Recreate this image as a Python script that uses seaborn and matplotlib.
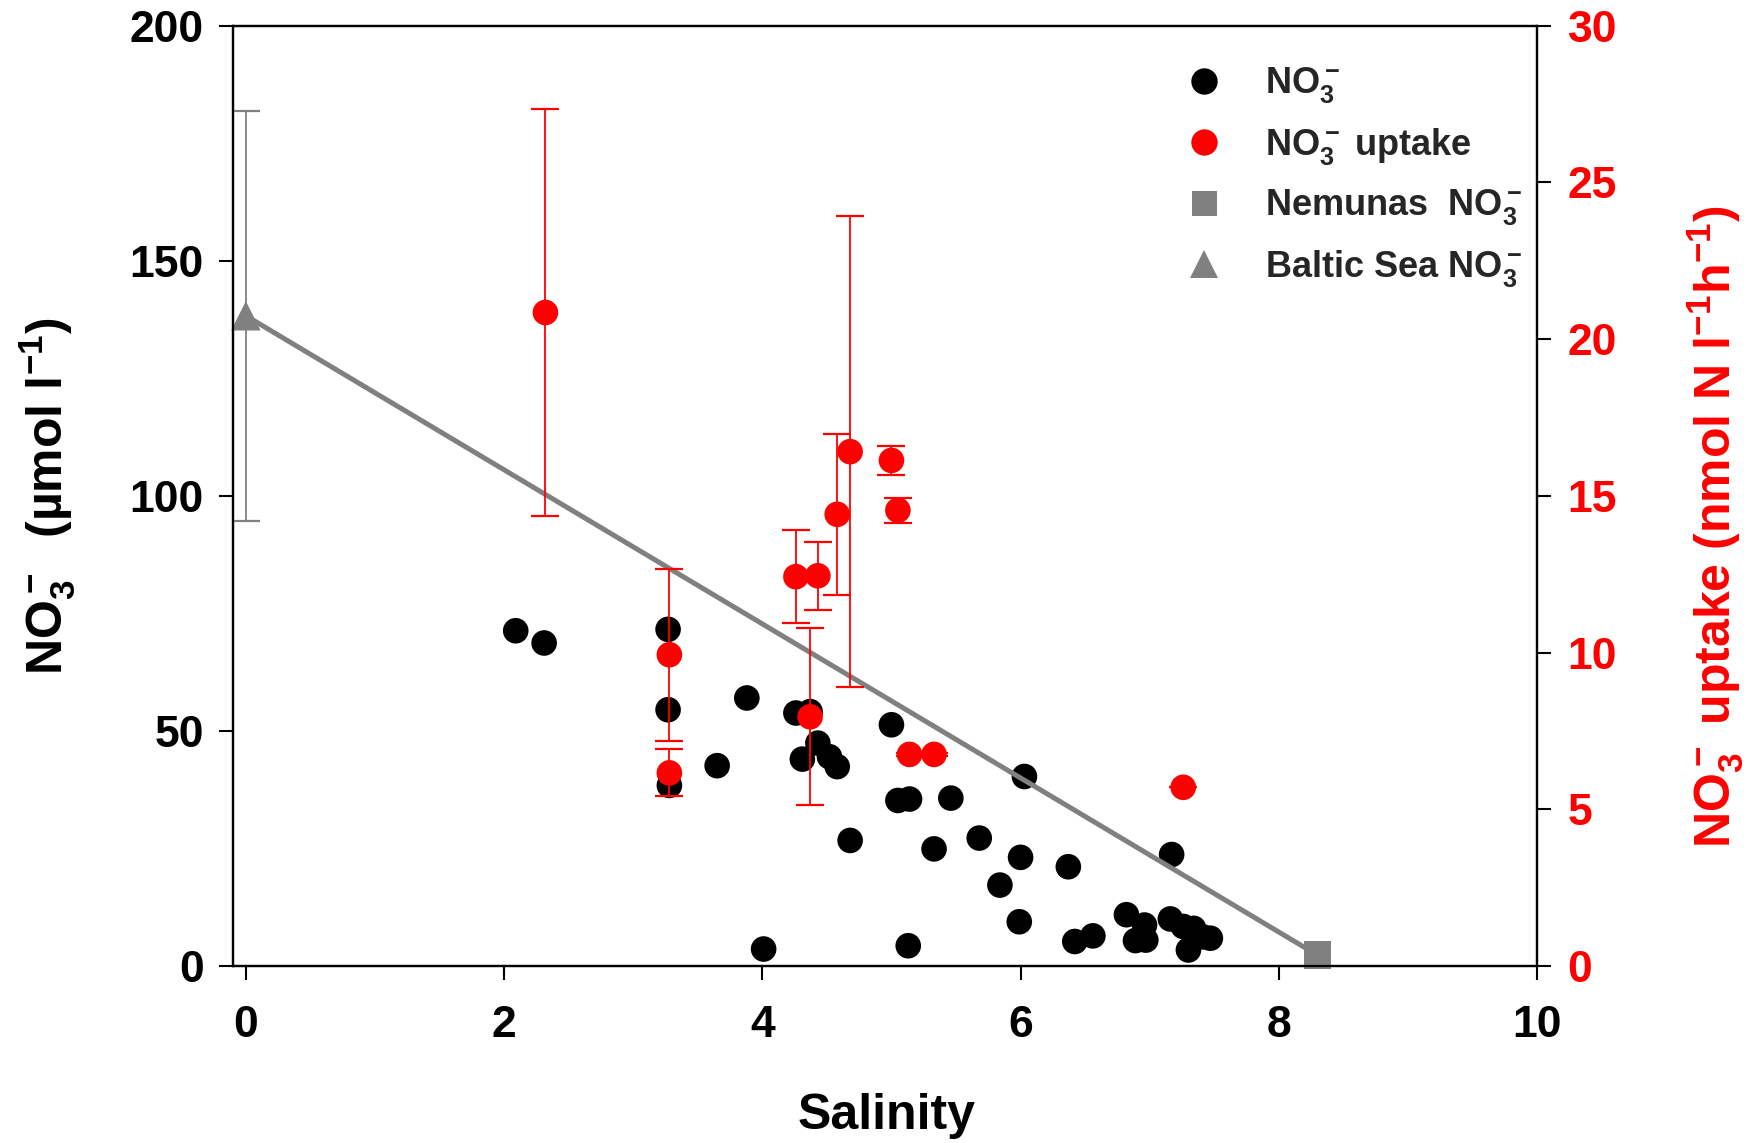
import matplotlib
matplotlib.use("Agg")
import matplotlib.pyplot as plt
import seaborn as sns
import numpy as np
import pandas as pd
from matplotlib.lines import Line2D

# ---------------- data ----------------
salinity_no3 = [2.09, 2.31, 3.27, 3.27, 3.28, 3.65, 3.88, 4.26, 4.37, 4.31,
                4.43, 4.52, 4.58, 4.68, 4.01, 5.00, 5.05, 5.14, 5.46, 5.33,
                5.68, 5.84, 6.00, 5.99, 6.03, 5.13, 6.37, 6.42, 6.56, 6.82,
                6.89, 6.96, 6.97, 7.17, 7.16, 7.26, 7.30, 7.34, 7.41, 7.47]
no3 = [71.3, 68.7, 71.6, 54.5, 38.4, 42.6, 57.0, 53.8, 54.1, 44.0,
       47.4, 44.5, 42.4, 26.7, 3.6, 51.3, 35.2, 35.5, 35.7, 24.9,
       27.2, 17.2, 23.1, 9.4, 40.3, 4.3, 21.1, 5.2, 6.4, 10.9,
       5.4, 8.7, 5.5, 23.7, 10.0, 8.4, 3.4, 8.0, 6.2, 5.9]

salinity_uptake = [2.32, 3.28, 3.28, 4.26, 4.37, 4.43, 4.58, 4.68, 5.00, 5.05, 5.14, 5.33, 7.26]
uptake = [20.85, 9.93, 6.16, 12.42, 7.95, 12.45, 14.41, 16.41, 16.13, 14.54, 6.75, 6.75, 5.70]
uptake_err = [6.49, 2.74, 0.75, 1.49, 2.83, 1.09, 2.56, 7.52, 0.47, 0.40, 0.05, 0.05, 0.0]

baltic_salinity = [0.0]
baltic_no3 = [138.3]
baltic_err = [43.6]
nemunas_salinity = [8.30]
nemunas_no3 = [2.3]

x_ticks = [0, 2, 4, 6, 8, 10]
left_ticks = [0, 50, 100, 150, 200]
right_ticks = [0, 5, 10, 15, 20, 25, 30]

legend_labels = [r"NO$_3^-$", r"NO$_3^-$ uptake", r"Nemunas  NO$_3^-$", r"Baltic Sea NO$_3^-$"]
xlabel = "Salinity"
ylabel_left = r"NO$_3^-$  (µmol l$^{-1}$)"
ylabel_right = r"NO$_3^-$ uptake (nmol N l$^{-1}$h$^{-1}$)"

# ---------------- style ----------------
sns.set_theme(style="ticks")
plt.rcParams['font.family'] = ['Liberation Sans', 'DejaVu Sans']
plt.rcParams['font.weight'] = 'bold'
plt.rcParams['mathtext.fontset'] = 'custom'
plt.rcParams['mathtext.rm'] = 'Liberation Sans:bold'
plt.rcParams['mathtext.bf'] = 'Liberation Sans:bold'
plt.rcParams['mathtext.it'] = 'Liberation Sans:bold'
plt.rcParams['mathtext.sf'] = 'Liberation Sans:bold'
plt.rcParams['mathtext.default'] = 'rm'

GREY = '#808080'
RED = '#ff0000'

fig = plt.figure(figsize=(17.49, 11.43), dpi=100)
ax = fig.add_axes([0.1332, 0.1549, 0.7456, 0.8226])
ax2 = ax.twinx()

df_no3 = pd.DataFrame({"salinity": salinity_no3, "no3": no3})
df_up = pd.DataFrame({"salinity": salinity_uptake, "uptake": uptake, "err": uptake_err})
df_mix = pd.DataFrame({"salinity": baltic_salinity + nemunas_salinity,
                       "no3": baltic_no3 + nemunas_no3})

# black NO3 points
sns.scatterplot(data=df_no3, x="salinity", y="no3", ax=ax, color="black",
                s=340, edgecolor="none", zorder=2, legend=False)
# mixing line
sns.lineplot(data=df_mix, x="salinity", y="no3", ax=ax, color=GREY,
             linewidth=3.6, zorder=3, legend=False)
ax.errorbar(baltic_salinity, baltic_no3, yerr=baltic_err, fmt='none',
            ecolor=GREY, elinewidth=1.3, capsize=10, capthick=1.6, zorder=3)
sns.scatterplot(x=baltic_salinity, y=baltic_no3, ax=ax, marker="^", color=GREY,
                s=450, edgecolor="none", zorder=4, legend=False, clip_on=False)
sns.scatterplot(x=nemunas_salinity, y=nemunas_no3, ax=ax, marker="s", color=GREY,
                s=400, edgecolor="none", zorder=4, legend=False, clip_on=False)

# red uptake points
ax2.errorbar(df_up["salinity"], df_up["uptake"], yerr=df_up["err"], fmt='none',
             ecolor=RED, elinewidth=1.3, capsize=10, capthick=1.6, zorder=2)
sns.scatterplot(data=df_up, x="salinity", y="uptake", ax=ax2, color=RED,
                s=340, edgecolor="none", zorder=3, legend=False)

# axes limits / ticks
ax.set_xlim(-0.1, 10)
ax.set_ylim(0, 200)
ax2.set_ylim(0, 30)
ax.set_xticks(x_ticks)
ax.set_yticks(left_ticks)
ax2.set_yticks(right_ticks)
ax.set_xticklabels([str(t) for t in x_ticks])
ax.set_yticklabels([str(t) for t in left_ticks])
ax2.set_yticklabels([str(t) for t in right_ticks])

for a in (ax, ax2):
    for sp in a.spines.values():
        sp.set_visible(True)
        sp.set_color('black')
        sp.set_linewidth(1.6)
    a.grid(False)

ax.tick_params(axis='both', direction='out', length=10, width=1.5, colors='black',
               labelsize=32)
ax.tick_params(axis='y', pad=11)
ax.tick_params(axis='x', pad=18)
ax2.tick_params(axis='y', direction='out', length=10, width=1.5, color='black',
                labelcolor=RED, labelsize=32, pad=12)
for lab in ax.get_xticklabels() + ax.get_yticklabels() + ax2.get_yticklabels():
    lab.set_fontweight('bold')

# labels
ax.set_xlabel(xlabel, fontsize=36, fontweight='bold', color='black')
ax.set_ylabel(ylabel_left, fontsize=36, fontweight='bold', color='black')
ax2.set_ylabel(ylabel_right, fontsize=36, fontweight='bold', color=RED)
ax.xaxis.set_label_coords(0.501, -0.160)
ax.yaxis.set_label_coords(-0.142, 0.5)
ax2.yaxis.set_label_coords(1.137, 0.467)
for lab in (ax.xaxis.label, ax.yaxis.label, ax2.yaxis.label):
    lab.set_va('center')
    lab.set_ha('center')

# legend
handles = [
    Line2D([], [], marker='o', color='black', linestyle='', markersize=19, markeredgewidth=0),
    Line2D([], [], marker='o', color=RED, linestyle='', markersize=19, markeredgewidth=0),
    Line2D([], [], marker='s', color=GREY, linestyle='', markersize=18, markeredgewidth=0),
    Line2D([], [], marker='^', color=GREY, linestyle='', markersize=20, markeredgewidth=0),
]
ax2.legend(handles, legend_labels, loc='upper left', bbox_to_anchor=(0.678, 0.943),
           bbox_transform=fig.transFigure, frameon=False,
           handlelength=1.0, handletextpad=1.2, labelspacing=0.57,
           borderpad=0, borderaxespad=0, prop={'weight': 'bold', 'size': 26})

fig.savefig("out.png", dpi=100)
